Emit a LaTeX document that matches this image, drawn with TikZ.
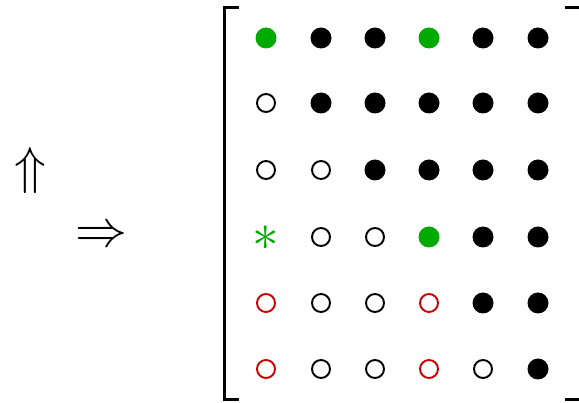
\documentclass[tikz,border=0pt]{standalone}
\usepackage{xcolor}
\definecolor{dotgreen}{RGB}{0,170,0}
\definecolor{dotred}{RGB}{204,0,0}
\tikzset{
  full/.style={circle, fill=#1, inner sep=0pt, minimum size=21pt},
  full/.default=black,
  hollow/.style={circle, draw=#1, line width=1.9pt, inner sep=0pt, minimum size=18pt},
  hollow/.default=black,
  star/.style={text=dotgreen, inner sep=0pt, scale=5.3},
  bigarrow/.style={inner sep=0pt, scale=5.2},
  bracket/.style={line width=3pt}
}
\begin{document}
\begin{tikzpicture}[x=1pt, y=-1pt]
  \useasboundingbox (0,0) rectangle (579,403);
  \clip (0,0) rectangle (579,403);

  % arrows on the left
  \node[bigarrow] (up) at (30,171) {$\Uparrow$};
  \node[bigarrow] (right) at (101,237) {$\Rightarrow$};

  % brackets
  \coordinate (lt1) at (239,7.5);
  \coordinate (lt2) at (224,7.5);
  \coordinate (lb1) at (224,400);
  \coordinate (lb2) at (239,400);
  \draw[bracket] (lt1) -- (lt2) -- (lb1) -- (lb2);
  \coordinate (rt1) at (565,7.5);
  \coordinate (rt2) at (590,7.5);
  \coordinate (rb1) at (590,400);
  \coordinate (rb2) at (565,400);
  \draw[bracket] (rt1) -- (rt2) -- (rb1) -- (rb2);

  % row 1
  \node[full=dotgreen] (a11) at (266,38) {};
  \node[full] (a12) at (321,38) {};
  \node[full] (a13) at (375,38) {};
  \node[full=dotgreen] (a14) at (429,38) {};
  \node[full] (a15) at (483,38) {};
  \node[full] (a16) at (538,38) {};
  % row 2
  \node[hollow] (a21) at (266,103) {};
  \node[full] (a22) at (321,103) {};
  \node[full] (a23) at (375,103) {};
  \node[full] (a24) at (429,103) {};
  \node[full] (a25) at (483,103) {};
  \node[full] (a26) at (538,103) {};
  % row 3
  \node[hollow] (a31) at (266,170) {};
  \node[hollow] (a32) at (321,170) {};
  \node[full] (a33) at (375,170) {};
  \node[full] (a34) at (429,170) {};
  \node[full] (a35) at (483,170) {};
  \node[full] (a36) at (538,170) {};
  % row 4
  \node[star] (a41) at (266,238) {$\ast$};
  \node[hollow] (a42) at (321,237) {};
  \node[hollow] (a43) at (375,237) {};
  \node[full=dotgreen] (a44) at (429,237) {};
  \node[full] (a45) at (483,237) {};
  \node[full] (a46) at (538,237) {};
  % row 5
  \node[hollow=dotred] (a51) at (266,303) {};
  \node[hollow] (a52) at (321,303) {};
  \node[hollow] (a53) at (375,303) {};
  \node[hollow=dotred] (a54) at (429,303) {};
  \node[full] (a55) at (483,303) {};
  \node[full] (a56) at (538,303) {};
  % row 6
  \node[hollow=dotred] (a61) at (266,369) {};
  \node[hollow] (a62) at (321,369) {};
  \node[hollow] (a63) at (375,369) {};
  \node[hollow=dotred] (a64) at (429,369) {};
  \node[hollow] (a65) at (483,369) {};
  \node[full] (a66) at (538,369) {};
\end{tikzpicture}
\end{document}
